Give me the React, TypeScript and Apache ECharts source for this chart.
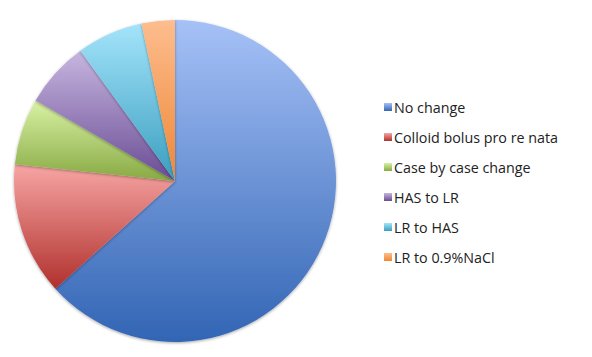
import React, { useEffect, useRef } from "react";
import * as echarts from "echarts";

const categories = [
  "No change",
  "Colloid bolus pro re nata",
  "Case by case change",
  "HAS to LR",
  "LR to HAS",
  "LR to 0.9%NaCl",
];
const values = [19, 4, 2, 2, 2, 1];
const topColors = ["#a6c1f7", "#f7a6a4", "#d8f2a4", "#c7b6e0", "#a4e4fb", "#fdbd8e"];
const bottomColors = ["#3265b4", "#b0302d", "#88a943", "#694c94", "#3a9ebf", "#ee8736"];

export default function App() {
  const ref = useRef<HTMLDivElement>(null);
  useEffect(() => {
    if (!ref.current) return;
    const chart = echarts.init(ref.current, undefined, { renderer: "svg" });
    const data = categories.map((name, i) => ({
      name,
      value: values[i],
      itemStyle: {
        color: new echarts.graphic.LinearGradient(0, 0, 0, 1, [
          { offset: 0, color: topColors[i] },
          { offset: 1, color: bottomColors[i] },
        ]),
      },
    }));
    chart.setOption({
      animation: false,
      backgroundColor: "#ffffff",
      legend: {
        orient: "vertical",
        left: 379,
        top: 95,
        itemWidth: 8,
        itemHeight: 8,
        itemGap: 16,
        icon: "rect",
        textStyle: {
          fontFamily: "Open Sans",
          fontSize: 14.3,
          color: "#222222",
          lineHeight: 14,
          padding: [0, 0, 0, -3],
        },
        data: categories,
      },
      series: [
        {
          type: "pie",
          center: [175, 181],
          radius: 161,
          startAngle: 90,
          clockwise: true,
          label: { show: false },
          labelLine: { show: false },
          emphasis: { disabled: true },
          itemStyle: {
            borderWidth: 0,
            shadowColor: "rgba(0,0,0,0.35)",
            shadowBlur: 3,
            shadowOffsetY: 1,
          },
          data,
        },
      ],
    });
    return () => chart.dispose();
  }, []);
  return <div ref={ref} style={{ width: 592, height: 357, position: "absolute", left: 0, top: 0 }} />;
}
